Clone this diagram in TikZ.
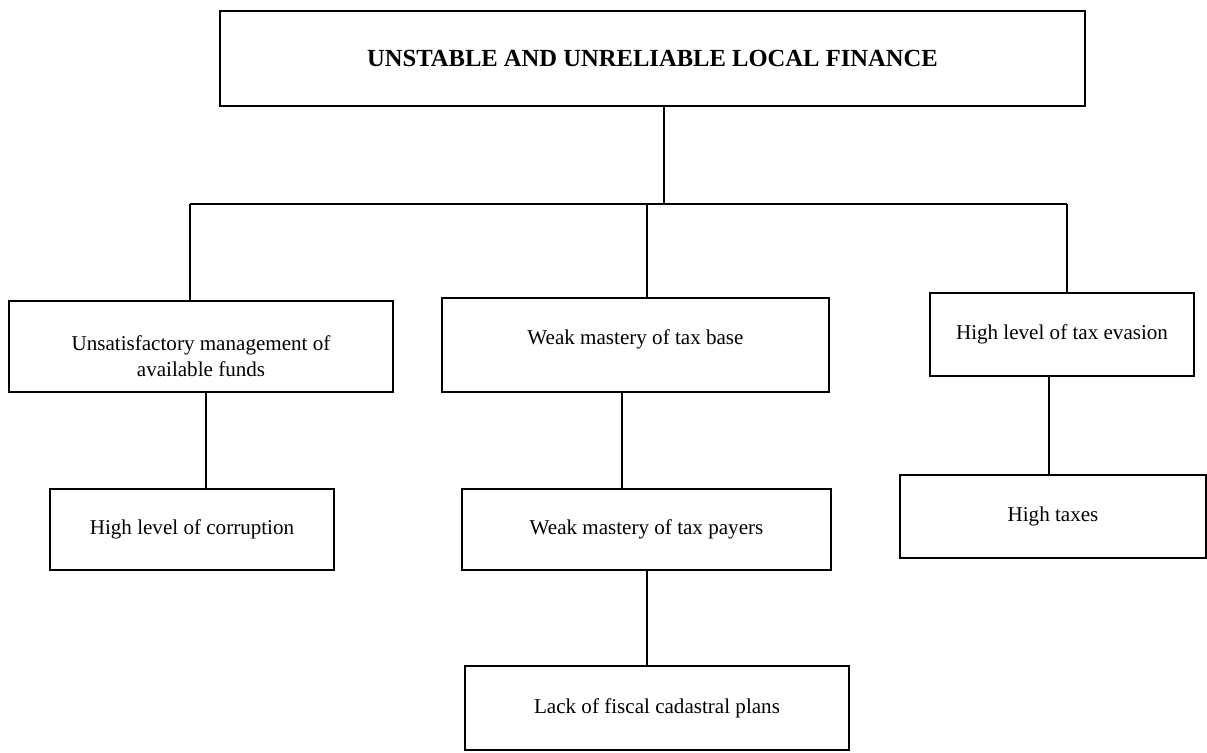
\documentclass[tikz,border=0pt]{standalone}
\usepackage{fontspec}
\setmainfont{Liberation Serif}
\begin{document}
\begin{tikzpicture}[x=0.02cm, y=-0.02cm, line width=1.1pt,
  box/.style={draw, rectangle, align=center, inner sep=0pt,
    font=\fontsize{12pt}{14.5pt}\selectfont}]
\useasboundingbox (0,0) rectangle (1207,752);
%main problem
\node [box, minimum width=17.3cm, minimum height=1.9cm, font=\fontsize{14pt}{17pt}\selectfont\bfseries] (finance) at (652.5,58.5) {UNSTABLE AND UNRELIABLE LOCAL FINANCE};
%causes
\node [box, minimum width=7.68cm, minimum height=1.82cm, text height=34pt] (funds) at (201,346.5) {Unsatisfactory management of\\available funds};
\node [box, minimum width=7.74cm, minimum height=1.88cm, text depth=9.4pt] (base) at (635.5,345) {Weak mastery of tax base};
\node [box, minimum width=5.28cm, minimum height=1.66cm] (evasion) at (1062,334.5) {High level of tax evasion};
%sub causes
\node [box, minimum width=5.68cm, minimum height=1.62cm] (corruption) at (192,529.5) {High level of corruption};
\node [box, minimum width=7.38cm, minimum height=1.62cm] (payers) at (646.5,529.5) {Weak mastery of tax payers};
\node [box, minimum width=7.68cm, minimum height=1.68cm] (cadastral) at (657,708) {Lack of fiscal cadastral plans};
\node [box, minimum width=6.12cm, minimum height=1.66cm] (taxes) at (1053,516.5) {High taxes};
%bar
\coordinate (barL) at (190,204);
\coordinate (barM) at (664,204);
\coordinate (barR) at (1067,204);
\coordinate (barB) at (647,204);
%connectors
\coordinate (cA) at (206,0);
\coordinate (cB) at (622,0);
\coordinate (cC) at (647,0);
\coordinate (cD) at (1049,0);
\draw (finance.south -| barM) -- (barM);
\draw (barL) -- (barR);
\draw (barL) -- (barL |- funds.north);
\draw (barB) -- (barB |- base.north);
\draw (barR) -- (barR |- evasion.north);
\draw (funds.south -| cA) -- (corruption.north -| cA);
\draw (base.south -| cB) -- (payers.north -| cB);
\draw (payers.south -| cC) -- (cadastral.north -| cC);
\draw (evasion.south -| cD) -- (taxes.north -| cD);
\end{tikzpicture}
\end{document}
